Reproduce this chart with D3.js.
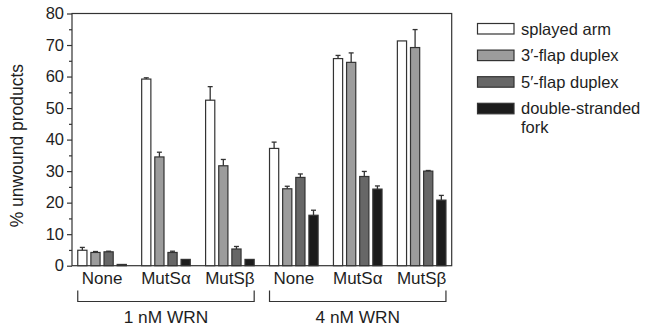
<!DOCTYPE html>
<html><head><meta charset="utf-8">
<script src="https://cdn.jsdelivr.net/npm/d3@7"></script>
<style>body{margin:0;background:#fff}svg{display:block}text{font-family:"Liberation Sans",Arial,Helvetica,sans-serif;fill:#1e1e1e}</style>
</head><body><svg id="c" width="661" height="330"></svg>
<script>
const groups = ["None 1", "MutSα 1", "MutSβ 1", "None 4", "MutSα 4", "MutSβ 4"];
const groupLabels = ["None", "MutSα", "MutSβ", "None", "MutSα", "MutSβ"];
const seriesNames = ["splayed arm", "3′-flap duplex", "5′-flap duplex", "double-stranded fork"];
const splayedArm = [4.9, 59.2, 52.5, 37.2, 65.7, 71.3];
const splayedErr = [0.9, 0.4, 4.3, 2.0, 1.0, 0.0];
const flap3 = [4.2, 34.5, 31.7, 24.4, 64.5, 69.2];
const flap3Err = [0.3, 1.5, 2.0, 0.8, 3.0, 5.7];
const flap5 = [4.4, 4.2, 5.3, 28.0, 28.3, 30.0];
const flap5Err = [0.2, 0.4, 0.8, 1.1, 1.6, 0.2];
const dsFork = [0.4, 2.0, 2.0, 16.0, 24.3, 20.8];
const dsForkErr = [0.1, 0.1, 0.1, 1.6, 1.0, 1.5];
const yTicks = [0, 10, 20, 30, 40, 50, 60, 70, 80];
const brackets = [{label: "1 nM WRN", from: 0, to: 2}, {label: "4 nM WRN", from: 3, to: 5}];

const values = [splayedArm, flap3, flap5, dsFork];
const errs = [splayedErr, flap3Err, flap5Err, dsForkErr];
const fills = ["#ffffff", "#9c9c9c", "#676767", "#1c1c1c"];
const stroke = "#333";

const svg = d3.select("#c");
const m = {l: 72, t: 13.5, r: 451.7, b: 265.7};
const x0 = d3.scaleBand().domain(groups).range([m.l, m.r]).paddingInner(0.24).paddingOuter(0.09);
const x1 = d3.scaleBand().domain(seriesNames).range([0, x0.bandwidth()]).paddingInner(0.3).paddingOuter(0);
const y = d3.scaleLinear().domain([0, 80]).range([m.b, m.t]);

// frame
svg.append("rect").attr("x", m.l).attr("y", m.t).attr("width", m.r - m.l).attr("height", m.b - m.t)
  .attr("fill", "none").attr("stroke", stroke).attr("stroke-width", 1.2);

// y axis
const ya = svg.append("g").attr("transform", `translate(${m.l},0)`)
  .call(d3.axisLeft(y).tickValues(yTicks).tickSize(5).tickPadding(3).tickFormat(d3.format("d")));
ya.select(".domain").remove();
ya.selectAll("line").attr("stroke", stroke).attr("stroke-width", 1.2);
ya.selectAll("text").attr("font-size", 16.5).style("font-family", "Liberation Sans, Arial, sans-serif").attr("fill", "#1e1e1e");
const minor = svg.append("g").attr("transform", `translate(${m.l},0)`)
  .call(d3.axisLeft(y).tickValues(d3.range(5, 80, 10)).tickSize(3).tickFormat(""));
minor.select(".domain").remove();
minor.selectAll("line").attr("stroke", stroke).attr("stroke-width", 1.2);

svg.append("text").attr("transform", `translate(23,${(m.t + m.b) / 2 + 6}) rotate(-90)`)
  .attr("text-anchor", "middle").attr("font-size", 17.5).text("% unwound products");

// bars
const gs = svg.append("g").selectAll("g").data(groups).join("g")
  .attr("transform", d => `translate(${x0(d)},0)`);
seriesNames.forEach((s, si) => {
  gs.append("rect")
    .attr("x", x1(s)).attr("width", x1.bandwidth())
    .attr("y", (d, i) => y(values[si][i])).attr("height", (d, i) => y(0) - y(values[si][i]))
    .attr("fill", fills[si]).attr("stroke", stroke).attr("stroke-width", 1.2);
  const cx = x1(s) + x1.bandwidth() / 2;
  gs.filter((d, i) => errs[si][i] > 0.15).each(function(d) {
    const i = groups.indexOf(d);
    const g = d3.select(this);
    const top = y(values[si][i] + errs[si][i]);
    g.append("line").attr("x1", cx).attr("x2", cx).attr("y1", y(values[si][i])).attr("y2", top)
      .attr("stroke", stroke).attr("stroke-width", 1.3);
    g.append("line").attr("x1", cx - 2.5).attr("x2", cx + 2.5).attr("y1", top).attr("y2", top)
      .attr("stroke", stroke).attr("stroke-width", 1.3);
  });
});

// category labels
svg.append("g").selectAll("text").data(groups).join("text")
  .attr("x", d => x0(d) + x0.bandwidth() / 2).attr("y", 284)
  .attr("text-anchor", "middle").attr("font-size", 17)
  .text((d, i) => groupLabels[i]);

// brackets
brackets.forEach(b => {
  const xa = x0(groups[b.from]), xb = x0(groups[b.to]) + x0.bandwidth();
  svg.append("path").attr("d", `M${xa},290.5V301.5H${xb}V290.5`)
    .attr("fill", "none").attr("stroke", stroke).attr("stroke-width", 1.2);
  svg.append("text").attr("x", (xa + xb) / 2).attr("y", 323).attr("text-anchor", "middle")
    .attr("font-size", 17.3).text(b.label);
});

// legend
const lg = svg.append("g").attr("transform", "translate(477.5,23.5)");
seriesNames.forEach((s, i) => {
  const row = lg.append("g").attr("transform", `translate(0,${i * 26.6})`);
  row.append("rect").attr("width", 36.5).attr("height", 10.5)
    .attr("fill", fills[i]).attr("stroke", stroke).attr("stroke-width", 1.2);
  const words = s === "double-stranded fork" ? ["double-stranded", "fork"] : [s];
  words.forEach((w, k) => row.append("text").attr("x", 43.5).attr("y", 11 + k * 18.6)
    .attr("font-size", 16.5).text(w));
});
</script></body></html>
